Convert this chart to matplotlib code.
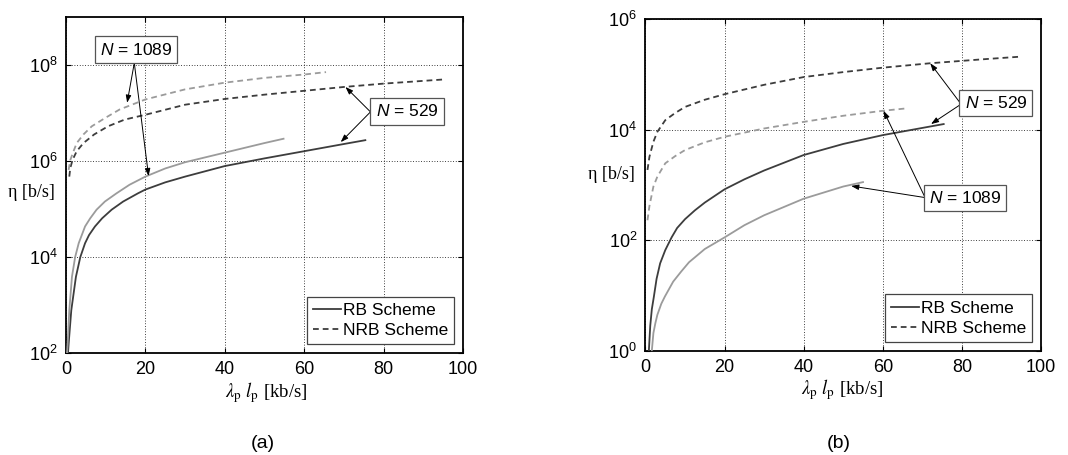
import numpy as np
import matplotlib
matplotlib.use("Agg")
import matplotlib.pyplot as plt
from matplotlib.lines import Line2D

plt.rcParams['font.family'] = ['Liberation Sans', 'DejaVu Sans']
plt.rcParams['mathtext.fontset'] = 'custom'
plt.rcParams['mathtext.rm'] = 'Liberation Sans'
plt.rcParams['mathtext.it'] = 'Liberation Sans:italic'
plt.rcParams['mathtext.bf'] = 'Liberation Sans:bold'

# ---------------- data (x in kb/s, y as log10 of eta in b/s) ----------------
# Panel (a)
a_rb529_x = [0.5, 0.66, 1.33, 2.5, 3.6, 4.8, 5.8, 7.3, 9.1, 11.5, 14.4, 18.1, 20, 25, 30,
             40, 50, 60, 70, 75.4]
a_rb529_y = [2.0, 2.19, 2.89, 3.59, 4.0, 4.29, 4.46, 4.64, 4.81, 4.99, 5.16, 5.33, 5.41, 5.56, 5.68,
             5.90, 6.06, 6.21, 6.36, 6.44]
a_rb1089_x = [0.25, 0.41, 0.83, 1.5, 2.3, 3.2, 4.8, 6.1, 7.7, 9.8, 12.7, 16.0, 20, 25, 30,
              40, 50, 54.8]
a_rb1089_y = [2.0, 2.19, 2.89, 3.59, 4.0, 4.29, 4.64, 4.81, 4.99, 5.16, 5.33, 5.51, 5.68, 5.85, 5.98,
              6.18, 6.38, 6.47]
a_nrb529_x = [0.83, 1.08, 1.66, 2.7, 4.4, 7.1, 10.6, 14.8, 20, 30, 40, 50, 60, 70, 80, 95.7]
a_nrb529_y = [5.68, 5.86, 6.03, 6.21, 6.38, 6.56, 6.73, 6.87, 6.97, 7.18, 7.30, 7.39, 7.47, 7.55, 7.62, 7.71]
a_nrb1089_x = [0.66, 1.1, 1.9, 2.7, 4.4, 6.5, 9.8, 13.5, 20, 30, 40, 50, 60, 65.5]
a_nrb1089_y = [5.82, 6.03, 6.21, 6.38, 6.56, 6.73, 6.90, 7.08, 7.29, 7.50, 7.64, 7.74, 7.81, 7.86]

# Panel (b)
b_rb529_x = [0.85, 1.2, 1.6, 2.1, 2.8, 3.7, 5, 6.6, 8, 10, 12.5, 15, 20, 25, 30, 40, 50, 60, 70, 75.4]
b_rb529_y = [0.0, 0.45, 0.75, 0.97, 1.30, 1.58, 1.82, 2.05, 2.22, 2.38, 2.54, 2.68, 2.92, 3.10, 3.26,
             3.54, 3.74, 3.90, 4.03, 4.10]
b_rb1089_x = [1.6, 2.0, 2.5, 3, 4, 4.9, 7, 9, 11, 15, 20, 25, 30, 40, 50, 55]
b_rb1089_y = [0.0, 0.32, 0.50, 0.65, 0.85, 0.98, 1.25, 1.43, 1.60, 1.84, 2.05, 2.27, 2.45, 2.75,
              2.97, 3.05]
b_nrb529_x = [0.5, 1, 2, 3, 5, 7.5, 10, 15, 20, 30, 40, 50, 60, 72, 85, 95]
b_nrb529_y = [3.27, 3.51, 3.78, 3.96, 4.17, 4.30, 4.41, 4.54, 4.64, 4.81, 4.95, 5.04, 5.12, 5.20,
              5.27, 5.32]
b_nrb1089_x = [0.5, 1, 2, 3, 5, 7.5, 10, 15, 20, 30, 40, 50, 60, 65.5]
b_nrb1089_y = [2.36, 2.62, 2.97, 3.15, 3.39, 3.52, 3.63, 3.77, 3.87, 4.02, 4.14, 4.25, 4.34, 4.38]

x_ticks = [0, 20, 40, 60, 80, 100]
a_yticks = [1e2, 1e4, 1e6, 1e8]
b_yticks = [1e0, 1e2, 1e4, 1e6]
legend_labels = ['RB Scheme', 'NRB Scheme']

DARK = '#3d3d3d'
LIGHT = '#9b9b9b'

fig = plt.figure(figsize=(10.68, 4.55), dpi=100)
axA = fig.add_axes([0.0618, 0.2242, 0.3717, 0.7374])
axB = fig.add_axes([0.6044, 0.2292, 0.3703, 0.7290])


def curve(ax, x, ly, color, dashed):
    ln, = ax.semilogy(x, 10.0 ** np.asarray(ly), color=color, lw=1.3, zorder=3,
                      solid_joinstyle='round', dash_joinstyle='round')
    if dashed:
        ln.set_dashes((3.2, 2.2))
    return ln


def style(ax, ylim, yticks, ylab_y):
    ax.set_xlim(0, 100)
    ax.set_ylim(*ylim)
    ax.set_xticks(x_ticks)
    ax.set_yticks(yticks)
    ax.minorticks_off()
    ax.grid(True, which='major', color='black', linestyle=(0, (1, 2.2)), lw=0.6)
    ax.tick_params(direction='in', length=3.5, width=0.8, top=True, right=True,
                   labelsize=13, pad=6)
    for s in ax.spines.values():
        s.set_linewidth(1.3)
    leg_handles = [Line2D([], [], color=DARK, lw=1.3),
                   Line2D([], [], color=DARK, lw=1.3, dashes=(3.2, 2.2))]
    leg = ax.legend(leg_handles, legend_labels, loc='lower right', fontsize=12.5,
                    frameon=True, fancybox=False, framealpha=1, edgecolor='#444444',
                    borderpad=0.35, handlelength=1.6, handletextpad=0.1,
                    labelspacing=0.3, borderaxespad=0.5)
    leg.get_frame().set_linewidth(0.9)
    ax.text(-0.086, ylab_y, 'η [b/s]', transform=ax.transAxes, ha='center', va='center',
            fontsize=13, family='Liberation Serif')


def box_note(ax, text, pos, origin, targets):
    ax.text(pos[0], 10 ** pos[1], text, ha='center', va='center', fontsize=12.5, zorder=6,
            bbox=dict(boxstyle='square,pad=0.3', fc='white', ec='#555555', lw=0.9))
    for t in targets:
        ax.annotate('', xy=(t[0], 10 ** t[1]), xytext=(origin[0], 10 ** origin[1]),
                    arrowprops=dict(arrowstyle='-|>,head_length=0.45,head_width=0.16',
                                    color='black', lw=0.7, shrinkA=0, shrinkB=0),
                    zorder=5)


# Panel (a)
curve(axA, a_rb529_x, a_rb529_y, DARK, False)
curve(axA, a_rb1089_x, a_rb1089_y, LIGHT, False)
curve(axA, a_nrb529_x, a_nrb529_y, DARK, True)
curve(axA, a_nrb1089_x, a_nrb1089_y, LIGHT, True)
style(axA, (1e2, 1e9), a_yticks, 0.477)
box_note(axA, r'$N$ = 1089', (17.6, 8.33), (17.2, 8.05), [(15.4, 7.22), (20.8, 5.69)])
box_note(axA, r'$N$ = 529', (85.9, 7.04), (76.7, 7.03), [(70.4, 7.55), (69.2, 6.40)])

# Panel (b)
curve(axB, b_rb529_x, b_rb529_y, DARK, False)
curve(axB, b_rb1089_x, b_rb1089_y, LIGHT, False)
curve(axB, b_nrb529_x, b_nrb529_y, DARK, True)
curve(axB, b_nrb1089_x, b_nrb1089_y, LIGHT, True)
style(axB, (1e0, 1e6), b_yticks, 0.53)
box_note(axB, r'$N$ = 529', (88.6, 4.48), (79.8, 4.46), [(72.0, 5.20), (72.2, 4.10)])
box_note(axB, r'$N$ = 1089', (80.8, 2.76), (70.7, 2.77), [(60.2, 4.34), (52.0, 2.98)])

xlab = r'$\lambda_{\mathrm{p}}\ \mathit{l}_{\mathrm{p}}$ [kb/s]'
for ax, xc in ((axA, 0.505), (axB, 0.498)):
    ax.text(xc, -0.118, xlab, transform=ax.transAxes, ha='center', va='center',
            fontsize=13.5, family='Liberation Serif', math_fontfamily='stix')

fig.text(263 / 1068, 1 - 443 / 455, '(a)', ha='center', va='center', fontsize=14)
fig.text(839 / 1068, 1 - 443 / 455, '(b)', ha='center', va='center', fontsize=14)

fig.savefig('out.png', dpi=100)
